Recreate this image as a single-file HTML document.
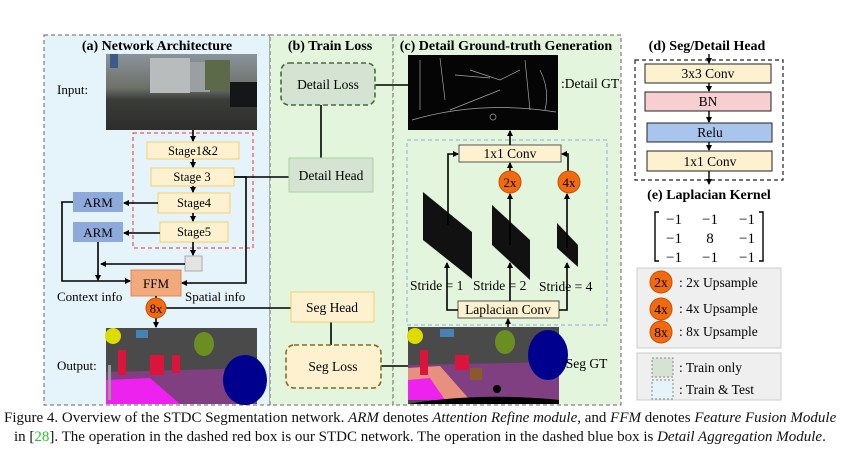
<!DOCTYPE html>
<html><head><meta charset="utf-8"><style>
html,body{margin:0;padding:0;background:#fff;}
body{width:854px;height:462px;overflow:hidden;position:relative;font-family:"Liberation Serif",serif;}
svg{position:absolute;left:0;top:0;}
.cap{position:absolute;left:4px;font-size:15px;line-height:18px;color:#111;white-space:nowrap;}
</style></head><body>
<svg width="854" height="462" viewBox="0 0 854 462" font-family="Liberation Serif, serif">
<defs>
<marker id="a" markerWidth="6" markerHeight="6" refX="5" refY="3" orient="auto" markerUnits="userSpaceOnUse"><path d="M0,0 L6,3 L0,6z" fill="#000"/></marker>
<linearGradient id="sky" x1="0" y1="0" x2="0" y2="1"><stop offset="0" stop-color="#8a949c"/><stop offset="0.45" stop-color="#6d7068"/><stop offset="0.6" stop-color="#3a3c38"/><stop offset="1" stop-color="#2d2e2c"/></linearGradient>
</defs>
<rect x="44" y="35" width="226" height="370" fill="#e5f3fb" stroke="#666" stroke-dasharray="4,3"/>
<rect x="270" y="35" width="123" height="370" fill="#e3f5dc" stroke="#666" stroke-dasharray="4,3"/>
<rect x="393" y="35" width="228" height="370" fill="#e3f5dc" stroke="#666" stroke-dasharray="4,3"/>
<g font-weight="bold" font-size="14" text-anchor="middle">
<text x="157" y="50">(a) Network Architecture</text>
<text x="330" y="50">(b) Train Loss</text>
<text x="506" y="50">(c) Detail Ground-truth Generation</text>
<text x="707" y="50">(d) Seg/Detail Head</text>
<text x="709" y="199">(e) Laplacian Kernel</text>
</g>
<rect x="106" y="54" width="151" height="76" fill="url(#sky)"/>
<rect x="150" y="58" width="40" height="35" fill="#b8bcbc"/>
<rect x="190" y="62" width="20" height="30" fill="#9aa0a2"/>
<rect x="205" y="60" width="25" height="30" fill="#5d6a4a"/>
<rect x="230" y="82" width="27" height="25" fill="#15161a"/>
<rect x="110" y="54" width="8" height="14" fill="#3a5a8a"/>
<text x="57" y="94" font-size="13">Input:</text>
<rect x="133" y="133" width="120" height="115" fill="none" stroke="#f03030" stroke-dasharray="4,3"/>
<g font-size="12.5" text-anchor="middle" stroke-width="1">
<rect x="147" y="142" width="92" height="17" fill="#fdf1cf" stroke="#f5d070"/><text x="193" y="155">Stage1&amp;2</text>
<rect x="151" y="168" width="83" height="18" fill="#fdf1cf" stroke="#f5d070"/><text x="192" y="181">Stage 3</text>
<rect x="158" y="193" width="72" height="20" fill="#fdf1cf" stroke="#f5d070"/><text x="194" y="207">Stage4</text>
<rect x="160" y="222" width="68" height="20" fill="#fdf1cf" stroke="#f5d070"/><text x="194" y="236">Stage5</text>
<rect x="73" y="192" width="50" height="20" fill="#8eaadb"/><text x="98" y="207" font-size="13">ARM</text>
<rect x="73" y="222" width="50" height="20" fill="#8eaadb"/><text x="98" y="237" font-size="13">ARM</text>
<rect x="185" y="256" width="17" height="15" fill="#e4e4e4" stroke="#aaa"/>
<rect x="131" y="270" width="50" height="26" fill="#f2a97c" stroke="#d88c5c"/><text x="156" y="288" font-size="13">FFM</text>
</g>
<g stroke="#000" stroke-width="1.6" fill="none">
<line x1="193" y1="130" x2="193" y2="141" marker-end="url(#a)"/>
<line x1="193" y1="159" x2="193" y2="167" marker-end="url(#a)"/>
<line x1="193" y1="186" x2="193" y2="192" marker-end="url(#a)"/>
<line x1="193" y1="213" x2="193" y2="221" marker-end="url(#a)"/>
<line x1="193" y1="242" x2="193" y2="255" marker-end="url(#a)"/>
<line x1="158" y1="203" x2="124" y2="203" marker-end="url(#a)"/>
<line x1="160" y1="233" x2="124" y2="233" marker-end="url(#a)"/>
<line x1="185" y1="264" x2="101" y2="264" marker-end="url(#a)"/>
<line x1="98" y1="242" x2="98" y2="280" marker-end="url(#a)"/>
<polyline points="73,202 62,202 62,281 130,281" marker-end="url(#a)"/>
<polyline points="234,177 246,177 246,283 182,283" marker-end="url(#a)"/>
<line x1="234" y1="177" x2="289" y2="177"/>
<line x1="156" y1="296" x2="156" y2="298"/>
<line x1="156" y1="318" x2="156" y2="327" marker-end="url(#a)"/>
<line x1="166" y1="308" x2="291" y2="308"/>
<line x1="321" y1="105" x2="321" y2="158"/>
<line x1="331" y1="322" x2="331" y2="345"/>
<line x1="375" y1="85" x2="408" y2="85"/>
<line x1="381" y1="366" x2="408" y2="366"/>
</g>
<text x="57" y="301" font-size="13">Context info</text>
<text x="185" y="301" font-size="13">Spatial info</text>
<circle cx="156" cy="308" r="10" fill="#f26a10" stroke="#c85000"/>
<text x="156" y="313" font-size="12.5" text-anchor="middle">8x</text>
<rect x="106" y="328" width="151" height="76" fill="#4a4a4a"/>
<polygon points="106,372 257,368 257,404 106,404" fill="#7f3f80"/>
<polygon points="106,380 150,378 180,404 106,404" fill="#ee22ee"/>
<ellipse cx="245" cy="380" rx="22" ry="25" fill="#00008e"/>
<circle cx="113" cy="336" r="8" fill="#dcdc00"/>
<ellipse cx="204" cy="344" rx="10" ry="12" fill="#6b8e23"/>
<rect x="136" y="330" width="12" height="8" fill="#4682b4"/>
<rect x="118" y="350" width="8" height="25" fill="#dc143c"/>
<rect x="150" y="355" width="14" height="20" fill="#dc143c"/>
<rect x="172" y="355" width="8" height="18" fill="#dc143c"/>
<rect x="108" y="365" width="3" height="35" fill="#999"/>
<text x="57" y="370" font-size="13">Output:</text>
<rect x="281" y="63" width="94" height="42" rx="8" fill="#d5e3d2" stroke="#4a6a40" stroke-width="1.6" stroke-dasharray="5,3"/>
<text x="328" y="89" font-size="13.5" text-anchor="middle">Detail Loss</text>
<rect x="289" y="158" width="84" height="34" fill="#d5e3d2" stroke="#a8d59a"/>
<text x="331" y="180" font-size="13.5" text-anchor="middle">Detail Head</text>
<rect x="291" y="292" width="83" height="30" fill="#fdf1cf" stroke="#f5d070"/>
<text x="332" y="312" font-size="13.5" text-anchor="middle">Seg Head</text>
<rect x="286" y="345" width="95" height="43" rx="8" fill="#fdf1cf" stroke="#8a6a20" stroke-width="1.6" stroke-dasharray="5,3"/>
<text x="333" y="371" font-size="13.5" text-anchor="middle">Seg Loss</text>
<rect x="408" y="55" width="150" height="75" fill="#050505"/>
<g stroke="#ccc" stroke-width="0.7" fill="none" opacity="0.8">
<path d="M412,120 Q480,100 556,112"/><path d="M420,60 L420,110 M440,58 L445,100 M470,70 L500,80 L520,70 M525,60 L530,110 M500,90 L450,110"/>
<path d="M455,75 L490,78 M540,70 Q550,90 545,110"/><circle cx="493" cy="117" r="3"/>
</g>
<text x="561" y="88" font-size="13.5">:Detail GT</text>
<rect x="407" y="140" width="200" height="185" fill="none" stroke="#8ab0e0" stroke-dasharray="4,3"/>
<rect x="459" y="145" width="102" height="17" fill="#fdf1cf" stroke="#555"/>
<text x="510" y="158" font-size="13.5" text-anchor="middle">1x1 Conv</text>
<rect x="458" y="301" width="101" height="17" fill="#fdf1cf" stroke="#555"/>
<text x="508" y="314" font-size="13.5" text-anchor="middle">Laplacian Conv</text>
<polygon points="423,192 472,232 472,279 423,240" fill="#111"/>
<polygon points="492,205 530,240 530,280 492,245" fill="#111"/>
<polygon points="557,223 578,245 578,267 557,248" fill="#111"/>
<g stroke="#000" stroke-width="1.6" fill="none">
<line x1="510" y1="145" x2="510" y2="131" marker-end="url(#a)"/>
<line x1="508" y1="327" x2="508" y2="319" marker-end="url(#a)"/>
<polyline points="458,310 447,310 447,263" marker-end="url(#a)"/>
<polyline points="448,225 448,154 458,154" marker-end="url(#a)"/>
<line x1="510" y1="301" x2="510" y2="263" marker-end="url(#a)"/>
<line x1="510" y1="245" x2="510" y2="194" marker-end="url(#a)"/>
<line x1="510" y1="171" x2="510" y2="163" marker-end="url(#a)"/>
<polyline points="559,310 567,310 567,263" marker-end="url(#a)"/>
<line x1="567" y1="250" x2="567" y2="194" marker-end="url(#a)"/>
<polyline points="568,171 568,154 562,154" marker-end="url(#a)"/>
</g>
<circle cx="510" cy="182" r="11" fill="#f26a10" stroke="#c85000"/><text x="510" y="187" font-size="13" text-anchor="middle">2x</text>
<circle cx="569" cy="182" r="11" fill="#f26a10" stroke="#c85000"/><text x="569" y="187" font-size="13" text-anchor="middle">4x</text>
<text x="410" y="290" font-size="13.5">Stride = 1</text>
<text x="473" y="290" font-size="13.5">Stride = 2</text>
<text x="539" y="291" font-size="13.5">Stride = 4</text>
<rect x="408" y="327" width="151" height="77" fill="#4a4a4a"/>
<polygon points="408,365 559,362 559,400 408,400" fill="#7f3f80"/>
<polygon points="408,368 440,366 470,400 408,400" fill="#e89080"/>
<polygon points="408,380 430,378 445,400 408,400" fill="#ee22ee"/>
<ellipse cx="548" cy="355" rx="20" ry="25" fill="#00008e"/>
<circle cx="415" cy="336" r="8" fill="#dcdc00"/>
<ellipse cx="505" cy="342" rx="10" ry="12" fill="#6b8e23"/>
<rect x="440" y="329" width="14" height="8" fill="#4682b4"/>
<rect x="420" y="350" width="8" height="25" fill="#dc143c"/>
<rect x="455" y="355" width="14" height="15" fill="#dc143c"/>
<rect x="470" y="368" width="12" height="12" fill="#8b5a2b"/>
<path d="M408,404 Q480,392 559,400 L559,404 Z" fill="#000"/>
<circle cx="497" cy="389" r="4" fill="#000"/>
<text x="562" y="368" font-size="13.5">:Seg GT</text>
<rect x="635" y="60" width="148" height="120" fill="none" stroke="#222" stroke-width="1.2" stroke-dasharray="4,3"/>
<rect x="645" y="64" width="126" height="19" fill="#fdf1cf" stroke="#222"/><text x="708" y="78" font-size="13.5" text-anchor="middle">3x3 Conv</text>
<rect x="645" y="92" width="126" height="19" fill="#f7cfd0" stroke="#222"/><text x="708" y="106" font-size="13.5" text-anchor="middle">BN</text>
<rect x="647" y="123" width="125" height="19" fill="#a9c5ec" stroke="#222"/><text x="710" y="137" font-size="13.5" text-anchor="middle">Relu</text>
<rect x="647" y="151" width="125" height="20" fill="#fdf1cf" stroke="#222"/><text x="710" y="166" font-size="13.5" text-anchor="middle">1x1 Conv</text>
<g stroke="#000" stroke-width="1.4" fill="none">
<line x1="709" y1="54" x2="709" y2="63" marker-end="url(#a)"/>
<line x1="709" y1="83" x2="709" y2="91" marker-end="url(#a)"/>
<line x1="709" y1="111" x2="709" y2="122" marker-end="url(#a)"/>
<line x1="709" y1="142" x2="709" y2="150" marker-end="url(#a)"/>
<line x1="709" y1="171" x2="709" y2="184" marker-end="url(#a)"/>
<path d="M659,212 L655,212 L655,261 L659,261"/><path d="M759,212 L763,212 L763,261 L759,261"/>
</g>
<g font-family="Liberation Serif, serif" font-size="15" text-anchor="middle">
<text x="674" y="224">−1</text><text x="710" y="224">−1</text><text x="747" y="224">−1</text>
<text x="674" y="243">−1</text><text x="710" y="243">8</text><text x="747" y="243">−1</text>
<text x="674" y="262">−1</text><text x="710" y="262">−1</text><text x="747" y="262">−1</text>
</g>
<rect x="637" y="268" width="144" height="80" fill="#efefef" stroke="#ccc"/>
<g font-size="13.5">
<circle cx="661" cy="282" r="11" fill="#f26a10" stroke="#c85000"/><text x="661" y="287" text-anchor="middle">2x</text><text x="679" y="287">: 2x Upsample</text>
<circle cx="661" cy="309" r="11" fill="#f26a10" stroke="#c85000"/><text x="661" y="314" text-anchor="middle">4x</text><text x="679" y="313">: 4x Upsample</text>
<circle cx="661" cy="332" r="11" fill="#f26a10" stroke="#c85000"/><text x="661" y="337" text-anchor="middle">8x</text><text x="679" y="336">: 8x Upsample</text>
</g>
<rect x="637" y="353" width="144" height="47" fill="#efefef" stroke="#ccc"/>
<rect x="652" y="358" width="21" height="19" fill="#d5e3d2" stroke="#888" stroke-dasharray="2,2"/>
<rect x="652" y="380" width="21" height="19" fill="#e5f3fb" stroke="#888" stroke-dasharray="2,2"/>
<text x="679" y="372" font-size="13.5">: Train only</text>
<text x="679" y="394" font-size="13.5">: Train &amp; Test</text>
</svg>
<div class="cap" style="top:409px">Figure 4. Overview of the STDC Segmentation network. <i>ARM</i> denotes <i>Attention Refine module</i>, and <i>FFM</i> denotes <i>Feature Fusion Module</i></div>
<div class="cap" style="top:428px;left:14px">in [<span style="color:#2c2">28</span>]. The operation in the dashed red box is our STDC network. The operation in the dashed blue box is <i>Detail Aggregation Module</i>.</div>
</body></html>
